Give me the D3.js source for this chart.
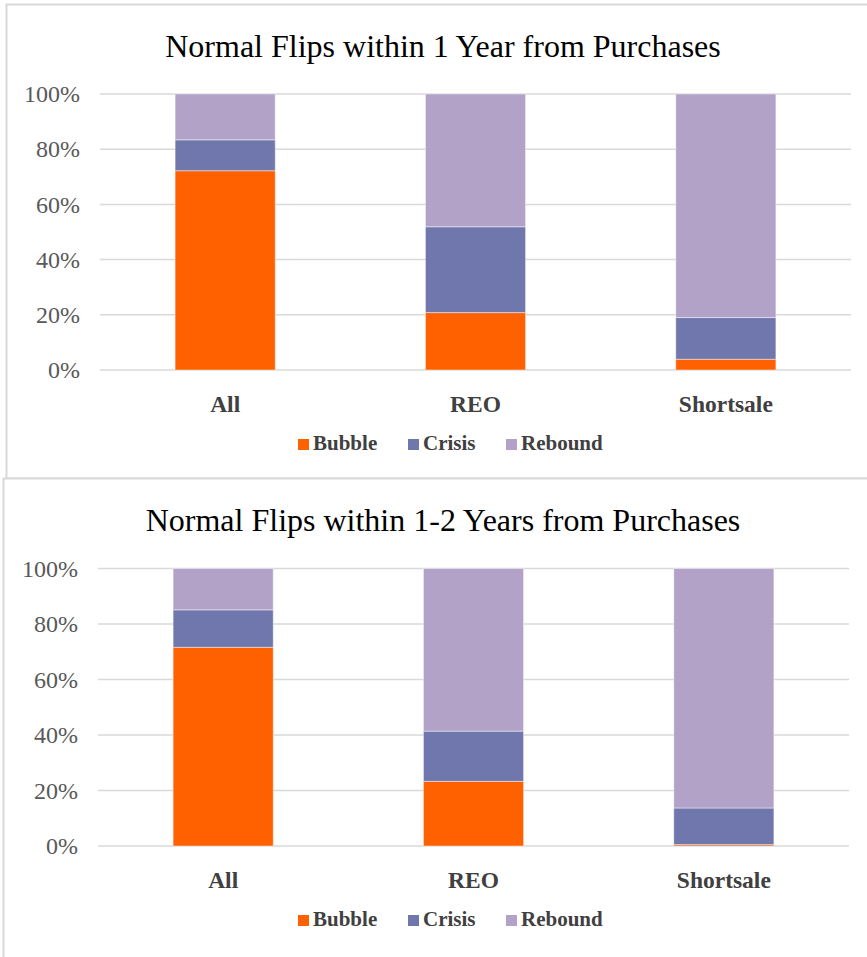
<!DOCTYPE html>
<html>
<head>
<meta charset="utf-8">
<script src="https://cdn.jsdelivr.net/npm/d3@7"></script>
<style>
  body { margin: 0; background: #fff; }
  svg { display: block; }
</style>
</head>
<body>
<svg id="chart" width="867" height="957"></svg>
<script>
// data (percent of flips)
const categories = ["All", "REO", "Shortsale"]
const seriesNames = ["Bubble", "Crisis", "Rebound"]
const seriesColors = ["#FF6000", "#7077AC", "#B2A2C7"]
const yTicks = [0, 20, 40, 60, 80, 100]

const titles = ["Normal Flips within 1 Year from Purchases", "Normal Flips within 1-2 Years from Purchases"]

const bubble1 = [72.2, 20.8, 3.9]
const crisis1 = [11.2, 31.1, 15.1]
const rebound1 = [16.6, 48.1, 81.0]

const bubble2 = [71.6, 23.3, 0.5]
const crisis2 = [13.5, 18.1, 13.2]
const rebound2 = [14.9, 58.6, 86.3]

const serif = '"Liberation Serif", "Times New Roman", serif'
const svg = d3.select('#chart')

function buildRows(b, c, r) {
    return categories.map((cat, i) => ({ cat: cat, Bubble: b[i], Crisis: c[i], Rebound: r[i] }))
}

function drawPanel(opt) {
    let g = svg.append('g').attr('transform', `translate(${opt.dx},${opt.dy})`)

    // panel frame
    g.append('rect')
        .attr('x', 0.5).attr('y', 0.5)
        .attr('width', 900).attr('height', opt.h)
        .attr('fill', '#fff')
        .attr('stroke', '#d9d9d9')
        .attr('stroke-width', 2)

    g.append('text')
        .attr('x', 443 - opt.dx)
        .attr('y', 53)
        .attr('text-anchor', 'middle')
        .style('font-family', serif)
        .attr('font-size', 32)
        .attr('fill', '#000')
        .text(opt.title)

    const x = d3.scaleBand().domain(categories).range([opt.left, opt.left + 751]).paddingInner(0.6).paddingOuter(0.3)
    const y = d3.scaleLinear().domain([0, 100]).range([opt.bottom, opt.bottom - opt.plotH])

    // gridlines
    g.append('g').selectAll('line')
        .data(yTicks)
        .join('line')
        .attr('x1', opt.left).attr('x2', opt.left + 751)
        .attr('y1', d => y(d)).attr('y2', d => y(d))
        .attr('stroke', '#d9d9d9')
        .attr('stroke-width', 1.5)

    // y labels
    const yAxis = d3.axisLeft(y).tickValues(yTicks).tickFormat(d => d + '%').tickSize(0).tickPadding(20)
    let ya = g.append('g').attr('transform', `translate(${opt.left},0)`).call(yAxis)
    ya.select('.domain').remove()
    ya.attr('font-family', null).attr('font-size', null)
    ya.selectAll('text')
        .style('font-family', serif)
        .style('font-size', '24px')
        .attr('fill', '#595959')

    const stack = d3.stack().keys(seriesNames)(buildRows(opt.b, opt.c, opt.r))
    const color = d3.scaleOrdinal().domain(seriesNames).range(seriesColors)

    g.append('g').selectAll('g')
        .data(stack)
        .join('g')
        .attr('fill', d => color(d.key))
        .selectAll('rect')
        .data(d => d)
        .join('rect')
        .attr('x', d => x(d.data.cat))
        .attr('width', x.bandwidth())
        .attr('y', d => y(d[1]))
        .attr('height', d => y(d[0]) - y(d[1]))
        .attr('stroke', 'rgba(255,255,255,0.45)')
        .attr('stroke-width', 1)

    // category labels
    const xAxis = d3.axisBottom(x).tickSize(0).tickPadding(25)
    let xa = g.append('g').attr('transform', `translate(0,${opt.bottom})`).call(xAxis)
    xa.select('.domain').remove()
    xa.attr('font-family', null).attr('font-size', null)
    xa.selectAll('text')
        .style('font-family', serif)
        .style('font-size', '23.5px')
        .attr('font-weight', 'bold')
        .attr('fill', '#404040')

    // legend
    const legendX = [298, 408, 506]
    let lg = g.append('g').selectAll('g')
        .data(seriesNames)
        .join('g')
        .attr('transform', (d, i) => `translate(${legendX[i] - opt.dx},${opt.bottom + 69})`)
    lg.append('rect')
        .attr('width', 11).attr('height', 11)
        .attr('fill', d => color(d))
    lg.append('text')
        .attr('x', 15).attr('y', 11)
        .style('font-family', serif)
        .attr('font-size', 21)
        .attr('font-weight', 'bold')
        .attr('fill', '#404040')
        .text(d => d)
}

drawPanel({ dx: 6, dy: 4, h: 474, left: 94, bottom: 366, plotH: 276, title: titles[0], b: bubble1, c: crisis1, r: rebound1 })
drawPanel({ dx: 3, dy: 478, h: 490, left: 95, bottom: 368, plotH: 277.5, title: titles[1], b: bubble2, c: crisis2, r: rebound2 })
</script>
</body>
</html>
